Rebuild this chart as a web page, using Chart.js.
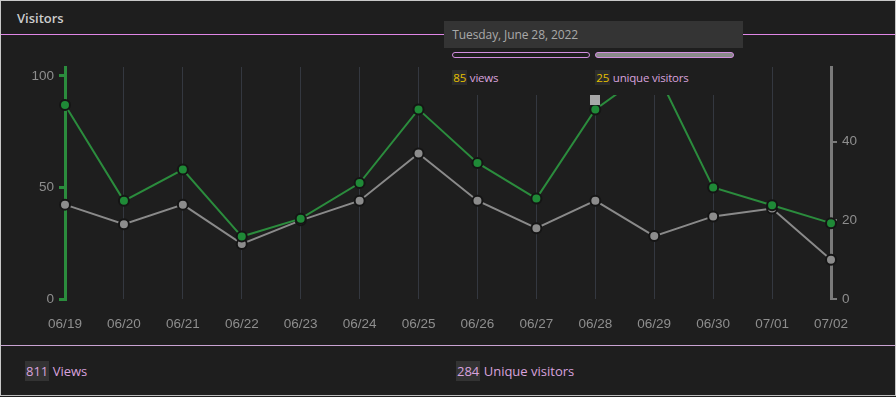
<!DOCTYPE html>
<html>
<head>
<meta charset="utf-8">
<script src="https://cdn.jsdelivr.net/npm/chart.js@4"></script>
<style>
  html, body { margin: 0; padding: 0; background: #1e1e1e; }
  body { width: 896px; height: 397px; position: relative; overflow: hidden; font-family: "Open Sans", sans-serif; }
  .frame { position: absolute; left: 0; top: 0; width: 894px; height: 394px; border: 1px solid #c8c8c8; border-bottom-color: #bdbdbd; pointer-events: none; z-index: 5; }
  .header { position: absolute; left: 1px; top: 1px; width: 894px; height: 33px; border-bottom: 1px solid #df86e6; }
  .header span { position: absolute; left: 16px; top: 8px; color: #cccccc; font-size: 13px; font-weight: 600; }
  #chartBox { position: absolute; left: 1px; top: 35px; width: 894px; height: 310px; }
  .footer { position: absolute; left: 1px; top: 345px; width: 894px; height: 49px; border-top: 1px solid #c9a3d2; }
  .stat { position: absolute; top: 16px; font-size: 13px; color: #d8a2dd; }
  .num { background: #333333; padding: 1px 1px; }
  #tip { position: absolute; top: 21px; width: 299px; height: 74px; background: #1e1e1e; z-index: 3; }
  #tip .title { height: 27px; background: #343434; color: #a9a9a9; font-size: 12px; line-height: 28px; padding-left: 8px; letter-spacing: -0.1px; }
  #tip .bar { position: absolute; top: 31px; height: 4px; border: 1.5px solid #d28ee0; border-radius: 4px; }
  #tip .val { position: absolute; top: 49px; font-size: 11.5px; color: #d8a2dd; letter-spacing: -0.2px; }
  #tip .val b { font-weight: normal; color: #e6c000; background: #2c2c2c; padding: 0 1px; }
  #caret { position: absolute; top: 95px; width: 10px; height: 10px; background: #a8a8a8; z-index: 3; }
</style>
</head>
<body>
<div class="frame"></div>
<div class="header"><span>Visitors</span></div>
<div id="chartBox"><canvas id="visitorsChart"></canvas></div>
<div id="tip">
  <div class="title" id="tipTitle"></div>
  <div class="bar" id="barViews" style="left:8px;width:136px;background:#1e1e1e"></div>
  <div class="bar" id="barUniq" style="left:151px;width:137px;background:#8a8a8a"></div>
  <div class="val" style="left:8px"><b id="tipViews"></b> views</div>
  <div class="val" style="left:151px"><b id="tipUniq"></b> unique visitors</div>
</div>
<div id="caret"></div>
<div class="footer">
  <div class="stat" style="left:24px"><span class="num" id="totViews"></span> Views</div>
  <div class="stat" style="left:455px"><span class="num" id="totUniq"></span> Unique visitors</div>
</div>
<script>
// ================= DATA =================
const days = ["06/19", "06/20", "06/21", "06/22", "06/23", "06/24", "06/25",
              "06/26", "06/27", "06/28", "06/29", "06/30", "07/01", "07/02"];
const year = 2022;
const views = [87, 44, 58, 28, 36, 52, 85, 61, 45, 85, 104, 50, 42, 34];
const uniques = [24, 19, 24, 14, 20, 25, 37, 25, 18, 25, 16, 21, 23, 10];
const totalUniques = 284;
const viewTicks = [0, 50, 100];
const uniqueTicks = [0, 20, 40];
const hoverIndex = 9;

const green = "#2b8c3d";
const gray = "#8a8a8a";
const tickColor = "#8e8e8e";

// ================= CHART =================
const ctx = document.getElementById("visitorsChart").getContext("2d");

const chart = new Chart(ctx, {
    type: "line",
    data: {
        labels: days,
        datasets: [
            {
                label: "views",
                data: views,
                yAxisID: "y",
                borderColor: green,
                backgroundColor: "#1f8a37",
                pointBorderColor: "#151515",
                pointBorderWidth: 2,
                pointRadius: 5,
                borderWidth: 2,
                tension: 0
            },
            {
                label: "unique visitors",
                data: uniques,
                yAxisID: "y1",
                borderColor: gray,
                backgroundColor: "#8c8c8c",
                pointBorderColor: "#151515",
                pointBorderWidth: 2,
                pointRadius: 5,
                borderWidth: 2,
                tension: 0
            }
        ]
    },
    options: {
        responsive: true,
        maintainAspectRatio: false,
        animation: false,
        layout: { padding: { top: 32, left: 0, right: 0, bottom: 0 } },
        plugins: {
            legend: { display: false },
            tooltip: { enabled: false }
        },
        scales: {
            x: {
                grid: { color: "#343840", lineWidth: 1, drawTicks: false },
                border: { display: false },
                ticks: {
                    color: tickColor,
                    font: { family: "Liberation Sans, Arial, sans-serif", size: 13.5 },
                    padding: 17,
                    autoSkip: false,
                    maxRotation: 0
                },
                afterFit: s => { s.height = 46; }
            },
            y: {
                position: "left",
                min: 0,
                max: Math.max(...views),
                grid: { drawOnChartArea: false, color: green, lineWidth: 3, tickLength: 6 },
                border: { color: green, width: 3 },
                afterBuildTicks: s => { s.ticks = viewTicks.map(v => ({ value: v })); },
                ticks: {
                    color: tickColor,
                    padding: 5,
                    font: { family: "Liberation Sans, Arial, sans-serif", size: 13.5 }
                },
                afterFit: s => { s.width = 64; }
            },
            y1: {
                position: "right",
                min: 0,
                max: 59,
                grid: { drawOnChartArea: false, color: "#7a7a7a", lineWidth: 2, tickLength: 6 },
                border: { color: "#7a7a7a", width: 3 },
                afterBuildTicks: s => { s.ticks = uniqueTicks.map(v => ({ value: v })); },
                ticks: {
                    color: tickColor,
                    padding: 5,
                    font: { family: "Liberation Sans, Arial, sans-serif", size: 13.5 }
                },
                afterFit: s => { s.width = 64; }
            }
        }
    }
});

// ================= TOOLTIP / TOTALS =================
const hoverDate = new Date(year, Number(days[hoverIndex].slice(0, 2)) - 1, Number(days[hoverIndex].slice(3)));
document.getElementById("tipTitle").innerText =
    hoverDate.toLocaleDateString("en-US", { weekday: "long", year: "numeric", month: "long", day: "numeric" });
document.getElementById("tipViews").innerText = views[hoverIndex];
document.getElementById("tipUniq").innerText = uniques[hoverIndex];

const px = 1 + chart.scales.x.getPixelForValue(hoverIndex);
document.getElementById("tip").style.left = (px - 151) + "px";
document.getElementById("caret").style.left = (px - 5) + "px";

document.getElementById("totViews").innerText = views.reduce((a, b) => a + b, 0);
document.getElementById("totUniq").innerText = totalUniques;
</script>
</body>
</html>
